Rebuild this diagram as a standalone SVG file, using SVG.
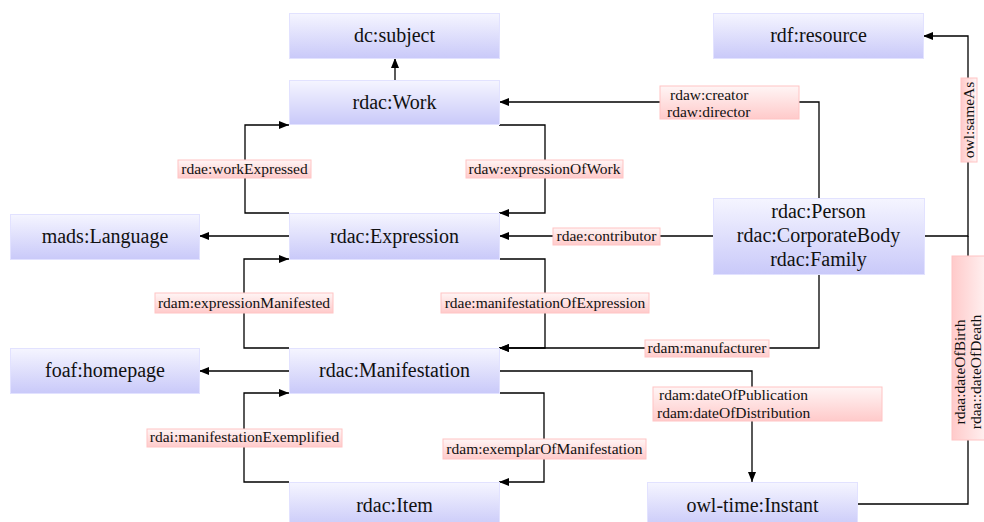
<svg xmlns="http://www.w3.org/2000/svg" width="984" height="522" viewBox="0 0 984 522" font-family="'Liberation Serif', 'Times New Roman', 'DejaVu Serif', serif">
<defs>
<linearGradient id="ng" x1="0" y1="0" x2="0" y2="1">
<stop offset="0" stop-color="#f5f5ff"/>
<stop offset="1" stop-color="#c9c9f9"/>
</linearGradient>
<linearGradient id="lg" x1="0" y1="0" x2="0" y2="1">
<stop offset="0" stop-color="#fff5f5"/>
<stop offset="1" stop-color="#ffcaca"/>
</linearGradient>
<linearGradient id="lgh" x1="0" y1="0" x2="1" y2="0">
<stop offset="0" stop-color="#ffcaca"/>
<stop offset="1" stop-color="#fff5f5"/>
</linearGradient>
<marker id="ar" markerUnits="userSpaceOnUse" markerWidth="11" markerHeight="9" refX="10" refY="4" orient="auto">
<path d="M0,0 L10,4 L0,8 z" fill="#000"/>
</marker>
</defs>
<style>
.n rect{fill:url(#ng);stroke:#e2e2ff;stroke-width:1}
.n text{font-size:20px;fill:#111;text-anchor:middle}
.c path{fill:none;stroke:#000;stroke-width:1.3}
.c path.a{marker-end:url(#ar)}
.l rect{fill:url(#lg);stroke:#ffc4c4;stroke-width:1}
.l rect.v{fill:url(#lgh)}
.l text{font-size:15.5px;fill:#111;text-anchor:middle}
.l text.s{text-anchor:start}
</style>
<rect width="984" height="522" fill="#fff"/>
<g id="connectors" class="c">
<path class="a" d="M395,80 V58"/>
<path class="a" d="M819,198 V102 H499"/>
<path class="a" d="M924,236 H968 V36 H923"/>
<path d="M857,504 H968 V236"/>
<path class="a" d="M289,213 H245 V125 H289"/>
<path class="a" d="M499,125 H545 V213 H499"/>
<path class="a" d="M289,236 H199"/>
<path class="a" d="M713,236 H499"/>
<path class="a" d="M289,348 H244 V259 H289"/>
<path class="a" d="M499,259 H545 V348 H499"/>
<path class="a" d="M819,274 V348 H499"/>
<path class="a" d="M289,371 H199"/>
<path class="a" d="M499,371 H752 V482"/>
<path class="a" d="M289,482 H244 V393 H289"/>
<path class="a" d="M499,393 H544 V482 H499"/>
</g>
<g id="labels" class="l">
<g id="lbl-creator"><rect x="660" y="86" width="139" height="33"/><text class="s" x="670" y="100">rdaw:creator</text><text class="s" x="667" y="117">rdaw:director</text></g>
<g id="lbl-workExpressed"><rect x="178" y="160" width="133" height="18"/><text x="244.5" y="174">rdae:workExpressed</text></g>
<g id="lbl-expressionOfWork"><rect x="466" y="160" width="157" height="18"/><text x="544.5" y="174">rdaw:expressionOfWork</text></g>
<g id="lbl-contributor"><rect x="553" y="228" width="107" height="17"/><text x="606.5" y="241">rdae:contributor</text></g>
<g id="lbl-expressionManifested"><rect x="155" y="293" width="178" height="20"/><text x="244" y="308">rdam:expressionManifested</text></g>
<g id="lbl-manifestationOfExpression"><rect x="441" y="293" width="208" height="20"/><text x="545" y="308">rdae:manifestationOfExpression</text></g>
<g id="lbl-manufacturer"><rect x="645" y="340" width="124" height="17"/><text x="707" y="353">rdam:manufacturer</text></g>
<g id="lbl-dateOfPublication"><rect x="653" y="387" width="229" height="34"/><text class="s" x="659" y="400">rdam:dateOfPublication</text><text class="s" x="657" y="418">rdam:dateOfDistribution</text></g>
<g id="lbl-manifestationExemplified"><rect x="147" y="429" width="195" height="18"/><text x="244.5" y="442">rdai:manifestationExemplified</text></g>
<g id="lbl-exemplarOfManifestation"><rect x="443" y="439" width="203" height="20"/><text x="544.5" y="454">rdam:exemplarOfManifestation</text></g>
<g id="lbl-sameAs"><rect class="v" x="961" y="78" width="16" height="84"/><text transform="translate(974,120) rotate(-90)">owl:sameAs</text></g>
<g id="lbl-dateOfBirth"><rect class="v" x="952" y="256" width="38" height="184"/><text transform="translate(965,372) rotate(-90)">rdaa:dateOfBirth</text><text transform="translate(981,372) rotate(-90)">rdaa::dateOfDeath</text></g>
</g>
<g id="dc-subject" class="n"><rect x="289.5" y="13.5" width="210" height="45"/><text x="394.5" y="42">dc:subject</text></g>
<g id="rdac-Work" class="n"><rect x="289.5" y="80.5" width="210" height="44"/><text x="394.5" y="109">rdac:Work</text></g>
<g id="rdf-resource" class="n"><rect x="713.5" y="13.5" width="210" height="45"/><text x="818.5" y="42">rdf:resource</text></g>
<g id="mads-Language" class="n"><rect x="10.5" y="214.5" width="189" height="45"/><text x="105" y="243">mads:Language</text></g>
<g id="rdac-Expression" class="n"><rect x="289.5" y="213.5" width="210" height="46"/><text x="394.5" y="243">rdac:Expression</text></g>
<g id="rdac-Person" class="n"><rect x="713.5" y="198.5" width="211" height="76"/><text x="818.5" y="218">rdac:Person</text><text x="818.5" y="242">rdac:CorporateBody</text><text x="818.5" y="266">rdac:Family</text></g>
<g id="foaf-homepage" class="n"><rect x="10.5" y="348.5" width="189" height="45"/><text x="105" y="377">foaf:homepage</text></g>
<g id="rdac-Manifestation" class="n"><rect x="289.5" y="348.5" width="210" height="45"/><text x="394.5" y="377">rdac:Manifestation</text></g>
<g id="rdac-Item" class="n"><rect x="289.5" y="482.5" width="210" height="45"/><text x="394.5" y="512">rdac:Item</text></g>
<g id="owl-time-Instant" class="n"><rect x="647.5" y="482.5" width="210" height="45"/><text x="752.5" y="512">owl-time:Instant</text></g>
</svg>
